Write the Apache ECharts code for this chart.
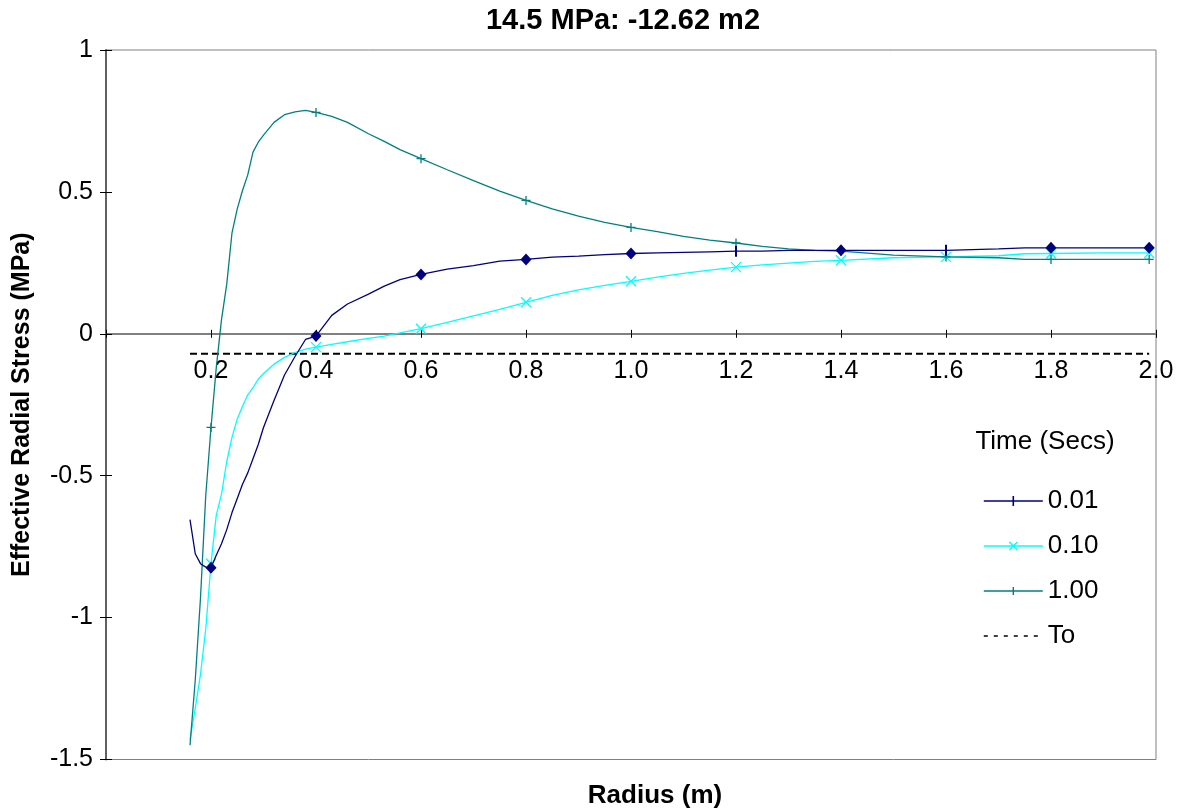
<!DOCTYPE html>
<html>
<head>
<meta charset="utf-8">
<title>Effective Radial Stress</title>
<script src="https://cdn.jsdelivr.net/npm/echarts@6.0.0/dist/echarts.min.js"></script>
<style>
  html, body { margin: 0; padding: 0; background: #ffffff; }
  #chart { width: 1177px; height: 812px; }
</style>
</head>
<body>
<div id="chart"></div>
<script>
// Radius sample points (m)
const radius = [0.16, 0.17, 0.18, 0.19, 0.20, 0.21, 0.22, 0.23, 0.24, 0.25, 0.26, 0.27, 0.28, 0.29, 0.30,
  0.32, 0.34, 0.36, 0.38, 0.40, 0.43, 0.46, 0.50, 0.53, 0.56, 0.60, 0.65, 0.70, 0.75, 0.80, 0.85,
  0.90, 0.95, 1.00, 1.05, 1.10, 1.15, 1.20, 1.25, 1.30, 1.35, 1.40, 1.50, 1.60, 1.70, 1.75, 1.80,
  1.90, 1.987];

// Effective radial stress (MPa) at t = 0.01 s
const stress001 = [-0.655, -0.775, -0.81, -0.822, -0.824, -0.78, -0.74, -0.69, -0.63, -0.58, -0.53, -0.49, -0.44, -0.39, -0.33,
  -0.235, -0.145, -0.08, -0.02, -0.008, 0.065, 0.105, 0.14, 0.168, 0.191, 0.209, 0.228, 0.24, 0.256, 0.262, 0.27,
  0.274, 0.279, 0.283, 0.285, 0.287, 0.289, 0.291, 0.291, 0.294, 0.294, 0.294, 0.294, 0.294, 0.299, 0.303, 0.303,
  0.303, 0.303];

// Effective radial stress (MPa) at t = 0.10 s
const stress010 = [-1.43, -1.32, -1.20, -1.04, -0.81, -0.64, -0.565, -0.45, -0.365, -0.30, -0.255, -0.215, -0.19, -0.16, -0.14,
  -0.107, -0.083, -0.066, -0.054, -0.047, -0.037, -0.028, -0.016, -0.008, 0.003, 0.018, 0.04, 0.063, 0.086, 0.111, 0.135,
  0.155, 0.171, 0.185, 0.20, 0.213, 0.224, 0.235, 0.243, 0.249, 0.255, 0.259, 0.268, 0.271, 0.275, 0.282, 0.283,
  0.285, 0.285];

// Effective radial stress (MPa) at t = 1.00 s
const stress100 = [-1.45, -1.22, -0.93, -0.57, -0.33, -0.12, 0.05, 0.175, 0.356, 0.44, 0.505, 0.56, 0.64, 0.675, 0.70,
  0.745, 0.772, 0.782, 0.787, 0.78, 0.766, 0.745, 0.705, 0.678, 0.649, 0.617, 0.578, 0.54, 0.503, 0.47, 0.44,
  0.415, 0.393, 0.375, 0.36, 0.343, 0.33, 0.32, 0.308, 0.299, 0.294, 0.291, 0.277, 0.271, 0.268, 0.262, 0.262,
  0.262, 0.262];

// In-situ stress level To (MPa)
const toLevel = -0.07;

// Radii that carry a marker
const markerRadii = [0.2, 0.4, 0.6, 0.8, 1.0, 1.2, 1.4, 1.6, 1.8, 1.987];
// Radii where the 0.01 s curve shows a bar instead of a diamond
const barRadii001 = [1.2, 1.6];

// Axis settings
const xMin = 0, xMax = 2.0, xStep = 0.2;
const yMin = -1.5, yMax = 1, yStep = 0.5;

const titleText = '14.5 MPa: -12.62 m2';
const xTitle = 'Radius (m)';
const yTitle = 'Effective Radial Stress (MPa)';
const legendTitle = 'Time (Secs)';
const seriesNames = ['0.01', '0.10', '1.00', 'To'];

const FONT = '"Liberation Sans", Arial, Helvetica, sans-serif';
const NAVY = '#000080';
const CYAN = '#00FFFF';
const TEAL = '#008080';
const PLUS = 'path://M5,0L5,10M0,5L10,5';
const XMARK = 'path://M0,0L10,10M10,0L0,10';

// Plot area inside the 1177 x 812 canvas
const CHART_H = 812;
const GRID = { left: 106, right: 21, top: 50, bottom: 52.5 };
const plotH = CHART_H - GRID.top - GRID.bottom;
// The labelled x axis sits on the y = 0 line: shift it up from the plot's bottom edge
const xAxisShift = -plotH * (0 - yMin) / (yMax - yMin);

function isMarked(r) {
  return markerRadii.some(m => Math.abs(m - r) < 1e-9);
}

function buildData(values, extra) {
  return radius.map((r, i) => {
    const item = { value: [r, values[i]] };
    if (!isMarked(r)) {
      item.symbol = 'none';
    } else if (extra) {
      extra(r, item);
    }
    return item;
  });
}

const data001 = buildData(stress001, (r, item) => {
  if (barRadii001.some(b => Math.abs(b - r) < 1e-9)) {
    item.symbol = 'rect';
    item.symbolSize = [2, 11];
  }
});
const data010 = buildData(stress010);
const data100 = buildData(stress100);
const dataTo = [[radius[0], toLevel], [radius[radius.length - 1], toLevel]];

const chart = echarts.init(document.getElementById('chart'), null, { renderer: 'canvas' });

const option = {
  backgroundColor: '#ffffff',
  animation: false,
  textStyle: { fontFamily: FONT },
  grid: {
    left: GRID.left, right: GRID.right, top: GRID.top, bottom: GRID.bottom,
    containLabel: false, outerBoundsMode: 'none',
    show: true, borderColor: '#808080', borderWidth: 1, backgroundColor: 'transparent'
  },
  xAxis: [
    {
      type: 'value', min: xMin, max: xMax, interval: xStep, position: 'bottom',
      offset: xAxisShift,
      axisLine: { show: true, onZero: false, lineStyle: { color: '#808080', width: 2 } },
      axisTick: { show: true, inside: false, length: 4, lineStyle: { color: '#000', width: 1 } },
      axisLabel: {
        color: '#000', fontSize: 25, fontFamily: FONT, margin: 25,
        formatter: v => (Math.abs(v) < 1e-9 ? '' : v.toFixed(1))
      },
      splitLine: { show: false }
    },
    {
      type: 'value', min: xMin, max: xMax, interval: xStep, position: 'bottom',
      axisLine: { show: false, onZero: true, onZeroAxisIndex: 0 },
      axisTick: { show: true, inside: true, length: 4, lineStyle: { color: '#000', width: 1 } },
      axisLabel: { show: false },
      splitLine: { show: false }
    }
  ],
  yAxis: [
    {
      type: 'value', min: yMin, max: yMax, interval: yStep, position: 'left',
      axisLine: { show: true, onZero: false, lineStyle: { color: '#606060', width: 2 } },
      axisTick: { show: true, inside: false, length: 6, lineStyle: { color: '#000', width: 1 } },
      axisLabel: { color: '#000', fontSize: 25, fontFamily: FONT, margin: 13 },
      splitLine: { show: false },
      name: yTitle, nameLocation: 'middle', nameGap: 71, nameRotate: 90,
      nameTextStyle: { color: '#000', fontSize: 25, fontWeight: 'bold', fontFamily: FONT }
    },
    {
      type: 'value', min: yMin, max: yMax, interval: yStep, position: 'left',
      axisLine: { show: false, onZero: false },
      axisTick: { show: true, inside: true, length: 6, lineStyle: { color: '#000', width: 1 } },
      axisLabel: { show: false },
      splitLine: { show: false }
    }
  ],
  legend: {
    orient: 'vertical', left: 983, top: 488, padding: 0,
    itemWidth: 59, itemHeight: 14, itemGap: 19,
    selectedMode: false,
    textStyle: { color: '#000', fontSize: 26, fontFamily: FONT },
    data: [
      { name: seriesNames[0], icon: 'path://M0,0M59,14M0,7L59,7M29.5,2L29.5,12',
        itemStyle: { color: 'transparent', borderColor: NAVY, borderWidth: 1.6 } },
      { name: seriesNames[1], icon: 'path://M0,0M59,14M0,7L59,7M25.5,3L33.5,11M33.5,3L25.5,11',
        itemStyle: { color: 'transparent', borderColor: CYAN, borderWidth: 1.4 } },
      { name: seriesNames[2], icon: 'path://M0,0M59,14M0,7L59,7M29.5,3L29.5,11',
        itemStyle: { color: 'transparent', borderColor: TEAL, borderWidth: 1.4 } },
      { name: seriesNames[3], icon: 'path://M0,0M59,14M0,7L59,7',
        itemStyle: { color: 'transparent', borderColor: '#000', borderWidth: 1.5, borderType: [4, 6] } }
    ]
  },
  graphic: [
    {
      type: 'text', x: 623, y: 21,
      style: { text: titleText, fill: '#000', font: 'bold 29px ' + FONT, textAlign: 'center', textVerticalAlign: 'middle' }
    },
    {
      type: 'text', x: 655, y: 796,
      style: { text: xTitle, fill: '#000', font: 'bold 26px ' + FONT, textAlign: 'center', textVerticalAlign: 'middle' }
    },
    {
      type: 'text', x: 1045, y: 442,
      style: { text: legendTitle, fill: '#000', font: '26px ' + FONT, textAlign: 'center', textVerticalAlign: 'middle' }
    }
  ],
  series: [
    {
      name: seriesNames[0], type: 'line', xAxisIndex: 0, yAxisIndex: 0,
      data: data001, showSymbol: true, showAllSymbol: true,
      symbol: 'diamond', symbolSize: [11, 12],
      lineStyle: { color: NAVY, width: 1.3 },
      itemStyle: { color: NAVY, borderColor: NAVY, borderWidth: 0 },
      emphasis: { disabled: true }, z: 4
    },
    {
      name: seriesNames[1], type: 'line', xAxisIndex: 0, yAxisIndex: 0,
      data: data010, showSymbol: true, showAllSymbol: true,
      symbol: XMARK, symbolSize: 10,
      lineStyle: { color: CYAN, width: 1.3 },
      itemStyle: { color: 'transparent', borderColor: CYAN, borderWidth: 1.3 },
      emphasis: { disabled: true }, z: 3
    },
    {
      name: seriesNames[2], type: 'line', xAxisIndex: 0, yAxisIndex: 0,
      data: data100, showSymbol: true, showAllSymbol: true,
      symbol: PLUS, symbolSize: 9,
      lineStyle: { color: TEAL, width: 1.3 },
      itemStyle: { color: 'transparent', borderColor: TEAL, borderWidth: 1.3 },
      emphasis: { disabled: true }, z: 3
    },
    {
      name: seriesNames[3], type: 'line', xAxisIndex: 0, yAxisIndex: 0,
      data: dataTo, symbol: 'none',
      lineStyle: { color: '#000', width: 2, type: [7, 4] },
      emphasis: { disabled: true }, z: 2
    }
  ]
};

chart.setOption(option);
</script>
</body>
</html>
